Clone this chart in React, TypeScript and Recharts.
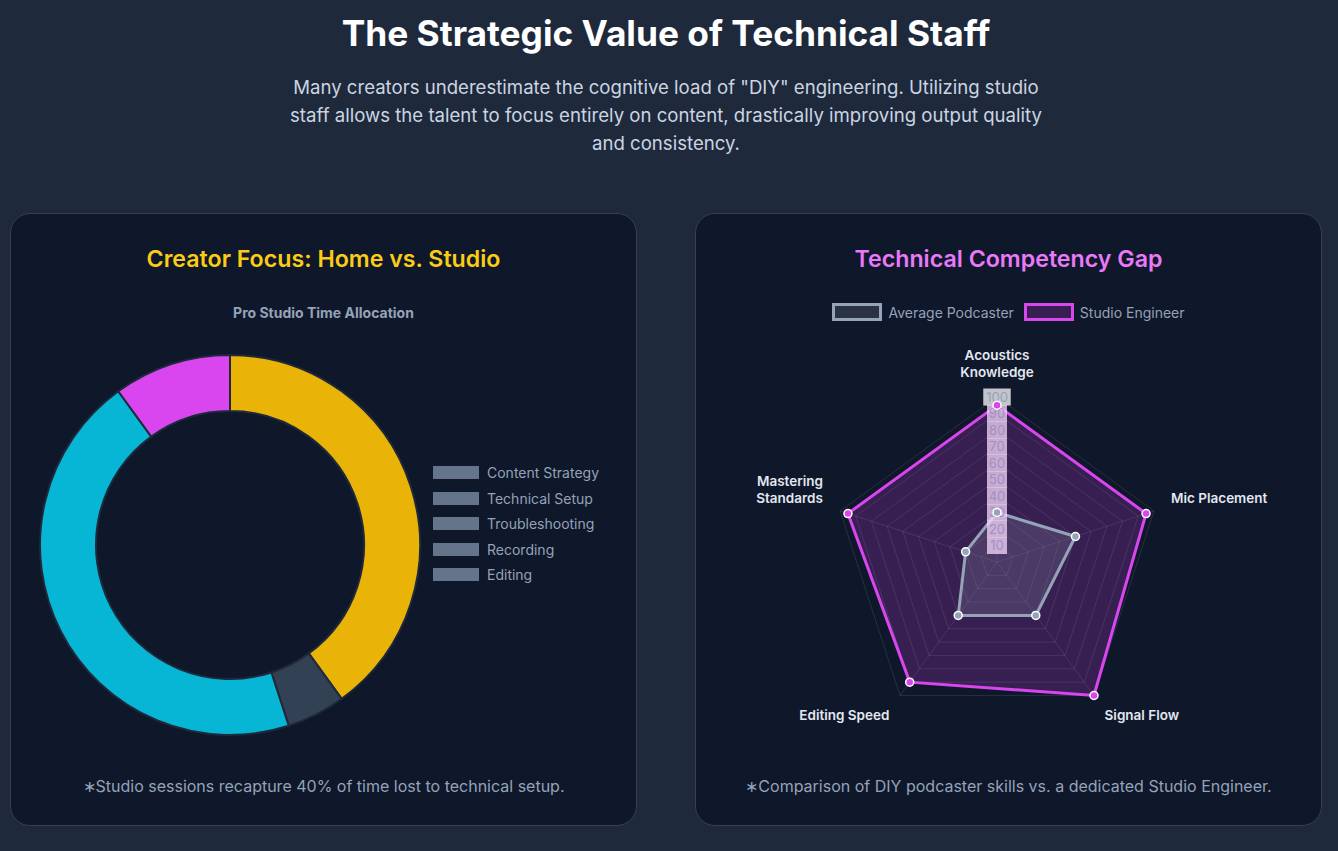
import React from "react";
import {
  PieChart,
  Pie,
  Cell,
  Legend,
  RadarChart,
  Radar,
  PolarGrid,
  PolarAngleAxis,
  PolarRadiusAxis,
} from "recharts";

// Pro studio time split
const focusAreas = ["Content Strategy", "Technical Setup", "Troubleshooting", "Recording", "Editing"];
const studioShare = [40, 5, 0, 45, 10];
const focusColors = ["#eab308", "#334155", "#475569", "#06b6d4", "#d946ef"];

// Skill radar
const skills = ["Acoustics Knowledge", "Mic Placement", "Signal Flow", "Editing Speed", "Mastering Standards"];
const podcasterScores = [30, 50, 40, 40, 20];
const engineerScores = [95, 95, 100, 90, 95];
const radiusTicks = [0, 10, 20, 30, 40, 50, 60, 70, 80, 90, 100];

const FONT = "Inter, 'Noto Sans', sans-serif";

const pieData = focusAreas.map((name, i) => ({ name, value: studioShare[i] }));
const radarData = skills.map((skill, i) => ({
  skill,
  podcaster: podcasterScores[i],
  engineer: engineerScores[i],
}));

const RADAR_CX = 301;
const RADAR_CY = 261;
const RADAR_R = 165;

const cardStyle: React.CSSProperties = {
  position: "absolute",
  top: 213,
  width: 625,
  height: 611,
  background: "#0f172a",
  border: "1px solid #334155",
  borderRadius: 20,
  boxSizing: "content-box",
};

const cardTitle: React.CSSProperties = {
  position: "absolute",
  top: 30,
  left: 0,
  right: 0,
  textAlign: "center",
  fontSize: 23.2,
  fontWeight: 600,
  lineHeight: "30px",
};

const footnote: React.CSSProperties = {
  position: "absolute",
  top: 560,
  left: 0,
  right: 0,
  textAlign: "center",
  fontSize: 16,
  color: "#94a3b8",
  lineHeight: "24px",
};

function FocusLegend() {
  return (
    <div style={{ fontFamily: FONT }}>
      {focusAreas.map((name) => (
        <div key={name} style={{ display: "flex", alignItems: "center", height: 25.5 }}>
          <span style={{ width: 46, height: 13, background: "#64748b", marginRight: 8, display: "inline-block" }} />
          <span style={{ fontSize: 14, color: "#94a3b8" }}>{name}</span>
        </div>
      ))}
    </div>
  );
}

const radarSeries = [
  { name: "Average Podcaster", stroke: "#94a3b8", fill: "rgba(148,163,184,0.2)" },
  { name: "Studio Engineer", stroke: "#d946ef", fill: "rgba(217,70,239,0.2)" },
];

function SkillLegend() {
  return (
    <div style={{ display: "flex", justifyContent: "center", fontFamily: FONT }}>
      {radarSeries.map((s) => (
        <div key={s.name} style={{ display: "flex", alignItems: "center", margin: "0 5px" }}>
          <span
            style={{
              width: 44,
              height: 12,
              border: `3px solid ${s.stroke}`,
              background: s.fill,
              marginRight: 6,
              display: "inline-block",
            }}
          />
          <span style={{ fontSize: 14, color: "#94a3b8" }}>{s.name}</span>
        </div>
      ))}
    </div>
  );
}

// tick labels sit on a pale backdrop, tinted where the engineer area lies behind them
function RadiusTick(props: any) {
  const { x, y, payload } = props;
  if (!payload || payload.value === 0) return null;
  const label = String(payload.value);
  const w = label.length * 7.5 + 5;
  const inside = payload.value <= engineerScores[0];
  return (
    <g>
      <rect
        x={x - w / 2}
        y={y - 8.5}
        width={w}
        height={17}
        fill={inside ? "rgba(247,217,252,0.75)" : "rgba(255,255,255,0.75)"}
      />
      <text
        x={x}
        y={y}
        dy={4.5}
        textAnchor="middle"
        fontSize={13}
        fill={inside ? "#a290c3" : "#94a3b8"}
        fontFamily={FONT}
      >
        {label}
      </text>
    </g>
  );
}

function SkillTick(props: any) {
  const { x, y, payload } = props;
  const dx = x - RADAR_CX;
  const dy = y - RADAR_CY;
  const len = Math.sqrt(dx * dx + dy * dy) || 1;
  const ux = dx / len;
  const uy = dy / len;
  const px = RADAR_CX + ux * (RADAR_R + 18);
  const py = RADAR_CY + uy * (RADAR_R + 18);
  const anchor = ux > 0.1 ? "start" : ux < -0.1 ? "end" : "middle";
  const text: string = payload.value;
  const lines = text.length > 16 ? text.split(" ") : [text];
  const lh = 17;
  const top = uy < -0.1 ? py - lines.length * lh + 3 : py - 2;
  return (
    <text textAnchor={anchor} fontSize={13.5} fontWeight={600} fill="#e2e8f0" fontFamily={FONT}>
      {lines.map((l, i) => (
        <tspan key={i} x={px} y={top + lh * i + 12}>
          {l}
        </tspan>
      ))}
    </text>
  );
}

export default function App() {
  return (
    <div
      style={{
        position: "fixed",
        left: 0,
        top: 0,
        width: 1338,
        height: 851,
        background: "#1e293b",
        fontFamily: FONT,
        overflow: "hidden",
      }}
    >
      <div
        style={{
          position: "absolute",
          top: 12,
          left: 0,
          width: 1332,
          textAlign: "center",
          color: "#ffffff",
          fontSize: 35.3,
          fontWeight: 700,
          lineHeight: "44px",
        }}
      >
        The Strategic Value of Technical Staff
      </div>
      <div
        style={{
          position: "absolute",
          top: 73,
          left: 281,
          width: 770,
          textAlign: "center",
          color: "#cbd5e1",
          fontSize: 18.6,
          lineHeight: "28px",
        }}
      >
        Many creators underestimate the cognitive load of "DIY" engineering. Utilizing studio staff allows the
        talent to focus entirely on content, drastically improving output quality and consistency.
      </div>

      <div style={{ ...cardStyle, left: 10 }}>
        <div style={{ ...cardTitle, color: "#facc15" }}>Creator Focus: Home vs. Studio</div>
        <div
          style={{
            position: "absolute",
            top: 90,
            left: 0,
            right: 0,
            textAlign: "center",
            fontSize: 14,
            fontWeight: 700,
            color: "#94a3b8",
          }}
        >
          Pro Studio Time Allocation
        </div>
        <div style={{ position: "absolute", left: 0, top: 87 }}>
          <PieChart width={625} height={460} margin={{ top: 0, right: 0, bottom: 0, left: 0 }}>
            <Pie
              data={pieData}
              dataKey="value"
              nameKey="name"
              cx={219}
              cy={244}
              innerRadius={134}
              outerRadius={190}
              startAngle={90}
              endAngle={-270}
              stroke="#1e293b"
              strokeWidth={2}
              isAnimationActive={false}
            >
              {pieData.map((d, i) => (
                <Cell key={d.name} fill={focusColors[i]} />
              ))}
            </Pie>
            <Legend
              content={() => <FocusLegend />}
              wrapperStyle={{ position: "absolute", left: 422, top: 159, width: 200 }}
            />
          </PieChart>
        </div>
        <div style={footnote}>∗Studio sessions recapture 40% of time lost to technical setup.</div>
      </div>

      <div style={{ ...cardStyle, left: 695 }}>
        <div style={{ ...cardTitle, color: "#e879f9" }}>Technical Competency Gap</div>
        <div style={{ position: "absolute", left: 0, top: 87 }}>
          <RadarChart
            width={625}
            height={460}
            data={radarData}
            cx={RADAR_CX}
            cy={RADAR_CY}
            outerRadius={RADAR_R}
            margin={{ top: 0, right: 0, bottom: 0, left: 0 }}
          >
            <PolarGrid gridType="polygon" stroke="rgba(255,255,255,0.1)" />
            <PolarAngleAxis dataKey="skill" tick={<SkillTick />} tickLine={false} axisLine={false} />
            <PolarRadiusAxis
              angle={90}
              domain={[0, 100]}
              ticks={radiusTicks as any}
              tick={<RadiusTick />}
              axisLine={false}
              tickLine={false}
            />
            <Radar
              name="Studio Engineer"
              dataKey="engineer"
              stroke="#d946ef"
              strokeWidth={3}
              fill="rgba(217,70,239,0.2)"
              fillOpacity={1}
              dot={{ r: 4, fill: "#d946ef", stroke: "#ffffff", strokeWidth: 1.5, fillOpacity: 1 }}
              isAnimationActive={false}
            />
            <Radar
              name="Average Podcaster"
              dataKey="podcaster"
              stroke="#94a3b8"
              strokeWidth={3}
              fill="rgba(148,163,184,0.2)"
              fillOpacity={1}
              dot={{ r: 4, fill: "#94a3b8", stroke: "#ffffff", strokeWidth: 1.5, fillOpacity: 1 }}
              isAnimationActive={false}
            />
            <Legend
              content={() => <SkillLegend />}
              wrapperStyle={{ position: "absolute", left: 0, top: 2, width: 625 }}
            />
          </RadarChart>
        </div>
        <div style={footnote}>∗Comparison of DIY podcaster skills vs. a dedicated Studio Engineer.</div>
      </div>
    </div>
  );
}
